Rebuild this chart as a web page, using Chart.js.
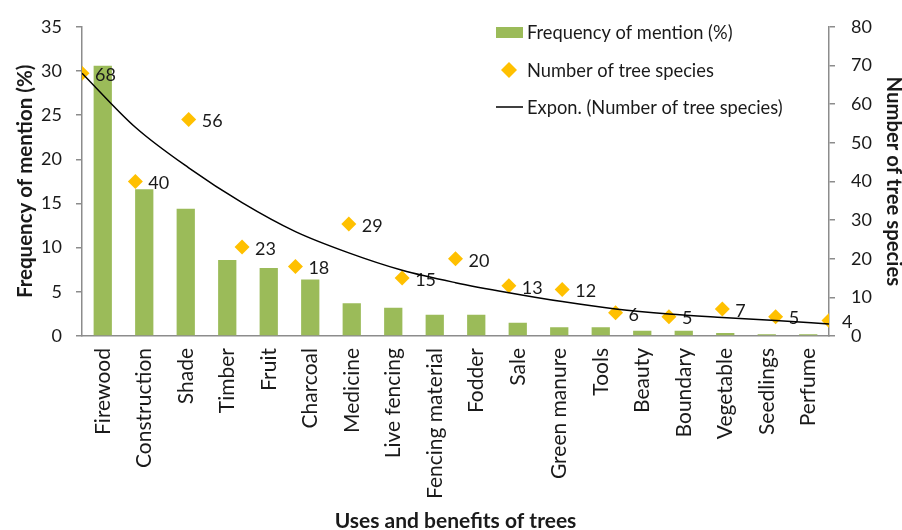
<!DOCTYPE html>
<html>
<head>
<meta charset="utf-8">
<script src="https://cdn.jsdelivr.net/npm/chart.js@4.4.1/dist/chart.umd.min.js"></script>
<style>
  html, body { margin: 0; padding: 0; background: #fff; }
</style>
</head>
<body>
<canvas id="treeChart" width="902" height="530"></canvas>
<script>
// categories on the primary x axis
const uses = ["Firewood", "Construction", "Shade", "Timber", "Fruit", "Charcoal", "Medicine",
  "Live fencing", "Fencing material", "Fodder", "Sale", "Green manure", "Tools", "Beauty",
  "Boundary", "Vegetable", "Seedlings", "Perfume"];
// frequency of mention (%) - bars, left axis
const mentionPct = [30.6, 16.6, 14.4, 8.6, 7.7, 6.4, 3.7, 3.2, 2.4, 2.4, 1.5, 1.0, 1.0, 0.6, 0.6, 0.35, 0.2, 0.2];
// number of tree species - diamonds on a secondary x axis (points 1..15), right axis
const speciesPos = [1, 2, 3, 4, 5, 6, 7, 8, 9, 10, 11, 12, 13, 14, 15];
const speciesCount = [68, 40, 56, 23, 18, 29, 15, 20, 13, 12, 6, 5, 7, 5, 4];
// exponential trendline, values at the same points
const trendCount = [68, 54, 43.5, 34.5, 27, 21.5, 17, 13.8, 11.2, 8.9, 7.0, 5.7, 4.8, 4.0, 3.1];
// tick values
const leftTicks = [0, 5, 10, 15, 20, 25, 30, 35];
const rightTicks = [0, 10, 20, 30, 40, 50, 60, 70, 80];

const FONT = "Lato";
const axisGray = "#8c8c8c";
const textColor = "#1a1a1a";

//Labels next to each diamond
const pointLabels = {
  id: 'pointLabels',
  afterDatasetDraw(chart, args) {
    if (args.index !== 1) return;
    const ctx = chart.ctx;
    ctx.save();
    ctx.font = "18px " + FONT;
    ctx.fillStyle = textColor;
    ctx.textAlign = 'left';
    ctx.textBaseline = 'middle';
    args.meta.data.forEach((pt, i) => {
      ctx.fillText(String(speciesCount[i]), pt.x + 13, pt.y + 2);
    });
    ctx.restore();
  }
};

//Legend drawn inside the plot, top right
const innerLegend = {
  id: 'innerLegend',
  afterDraw(chart) {
    const ctx = chart.ctx;
    const ds = chart.data.datasets;
    const x0 = 496, tx = 527;
    const rows = [32, 70, 107];
    ctx.save();
    ctx.font = "18.3px " + FONT;
    ctx.textBaseline = 'middle';
    ctx.textAlign = 'left';

    ctx.fillStyle = ds[0].backgroundColor;
    ctx.fillRect(x0, rows[0] - 5, 27, 11);

    ctx.fillStyle = ds[1].backgroundColor;
    ctx.beginPath();
    ctx.moveTo(509, rows[1] - 8);
    ctx.lineTo(517, rows[1]);
    ctx.lineTo(509, rows[1] + 8);
    ctx.lineTo(501, rows[1]);
    ctx.closePath();
    ctx.fill();

    ctx.strokeStyle = ds[2].borderColor;
    ctx.lineWidth = 1.5;
    ctx.beginPath();
    ctx.moveTo(x0, rows[2]);
    ctx.lineTo(x0 + 27, rows[2]);
    ctx.stroke();

    ctx.fillStyle = textColor;
    ds.forEach((d, i) => ctx.fillText(d.label, tx, rows[i] + 1));
    ctx.restore();
  }
};

window.addEventListener('DOMContentLoaded', function () {
  const ctx = document.getElementById('treeChart').getContext('2d');

  new Chart(ctx, {
    type: 'bar',
    data: {
      labels: uses,
      datasets: [{
        type: 'bar',
        label: 'Frequency of mention (%)',
        data: mentionPct,
        backgroundColor: '#9BBB59',
        xAxisID: 'x',
        yAxisID: 'y',
        grouped: false,
        barPercentage: 0.44,
        categoryPercentage: 1,
        order: 3
      }, {
        type: 'scatter',
        label: 'Number of tree species',
        data: speciesPos.map((p, i) => ({ x: p, y: speciesCount[i] })),
        backgroundColor: '#FFC000',
        borderColor: '#FFC000',
        pointStyle: 'rectRot',
        pointRadius: 7.5,
        pointBorderWidth: 0,
        xAxisID: 'x2',
        yAxisID: 'y2',
        order: 2
      }, {
        type: 'line',
        label: 'Expon. (Number of tree species)',
        data: speciesPos.map((p, i) => ({ x: p, y: trendCount[i] })),
        borderColor: '#000000',
        borderWidth: 1.5,
        pointRadius: 0,
        fill: false,
        cubicInterpolationMode: 'monotone',
        xAxisID: 'x2',
        yAxisID: 'y2',
        order: 1
      }]
    },
    options: {
      responsive: false,
      animation: false,
      layout: { padding: { top: 22, left: 0, right: 0, bottom: 0 } },
      plugins: {
        legend: { display: false },
        tooltip: { enabled: false }
      },
      scales: {
        x: {
          type: 'category',
          offset: true,
          grid: { display: false, drawTicks: false },
          border: { display: true, color: axisGray, width: 1.5 },
          ticks: {
            color: textColor,
            font: { family: FONT, size: 21 },
            minRotation: 90,
            maxRotation: 90,
            autoSkip: false,
            padding: 12
          },
          title: {
            display: true,
            text: 'Uses and benefits of trees',
            color: textColor,
            font: { family: FONT, size: 21, weight: 'bold', lineHeight: 0.8 },
            padding: { top: 0, bottom: 0 }
          },
          afterFit(scale) { scale.height = 194; }
        },
        x2: {
          type: 'linear',
          display: false,
          offset: false,
          min: 1,
          max: 15
        },
        y: {
          position: 'left',
          min: 0,
          max: 35,
          afterBuildTicks(scale) { scale.ticks = leftTicks.map(v => ({ value: v })); },
          grid: { display: true, drawOnChartArea: false, drawTicks: true, tickLength: 6, color: axisGray, lineWidth: 1.5 },
          border: { display: true, color: axisGray, width: 1.5 },
          ticks: {
            color: textColor,
            font: { family: FONT, size: 18 },
            padding: 14
          },
          title: {
            display: true,
            text: 'Frequency of mention (%)',
            color: textColor,
            font: { family: FONT, size: 20.5, weight: 'bold', lineHeight: 1.2 },
            padding: { top: 13, bottom: 0 }
          },
          afterFit(scale) { scale.width = 82; }
        },
        y2: {
          position: 'right',
          min: 0,
          max: 80,
          afterBuildTicks(scale) { scale.ticks = rightTicks.map(v => ({ value: v })); },
          grid: { display: true, drawOnChartArea: false, drawTicks: true, tickLength: 6, color: axisGray, lineWidth: 1.5 },
          border: { display: true, color: axisGray, width: 1.5 },
          ticks: {
            color: textColor,
            font: { family: FONT, size: 18 },
            padding: 16
          },
          title: {
            display: true,
            text: 'Number of tree species',
            color: textColor,
            font: { family: FONT, size: 20.3, weight: 'bold', lineHeight: 1 },
            padding: { top: -2, bottom: 0 }
          },
          afterFit(scale) { scale.width = 73; }
        }
      }
    },
    plugins: [pointLabels, innerLegend]
  });
});
</script>
</body>
</html>
